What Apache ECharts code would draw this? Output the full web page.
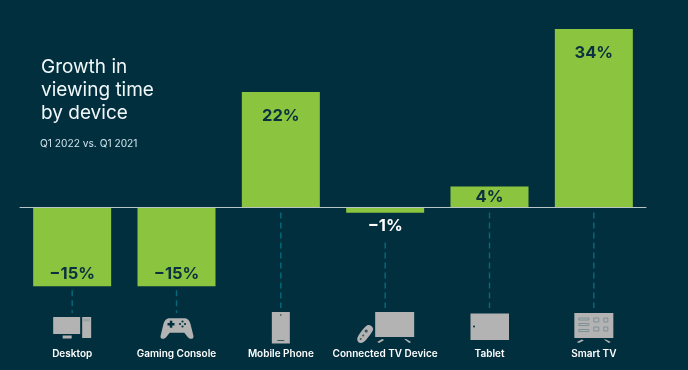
<!DOCTYPE html>
<html>
<head>
<meta charset="utf-8">
<style>html,body{margin:0;padding:0;background:#022f3e}#c{width:688px;height:370px}</style>
<script src="https://cdn.jsdelivr.net/npm/echarts@6/dist/echarts.min.js"></script>
</head>
<body>
<div id="c"></div>
<script>
const categories = ['Desktop', 'Gaming Console', 'Mobile Phone', 'Connected TV Device', 'Tablet', 'Smart TV'];
const growth = [-15, -15, 22, -1, 4, 34];
const titleLines = ['Growth in', 'viewing time', 'by device'];
const subtitle = 'Q1 2022 vs. Q1 2021';

const BG = '#022f3e', GREEN = '#8bc53f', DARK = '#0b3040', GREY = '#b3b3b3', STEM = '#06697c', WHITE = '#ffffff';
const FONT = 'Inter, "Noto Sans", sans-serif';

const fmt = v => (v < 0 ? '\u2212' + Math.abs(v) : v) + '%';

const r = (x, y, width, height, fill, stroke) => ({
  type: 'rect', shape: { x, y, width, height },
  style: { fill: fill || GREY, stroke: stroke || null, lineWidth: stroke ? 1 : 0 }
});
const poly = (points, fill) => ({ type: 'polygon', shape: { points }, style: { fill: fill || GREY } });
const dot = (cx, cy, rad, fill) => ({ type: 'circle', shape: { cx, cy, r: rad }, style: { fill: fill || BG } });

const iconParts = [
  // Desktop
  [r(-19, 317, 27, 17), r(-9.5, 335.5, 9, 3), r(10, 317, 9, 21), r(11, 318.5, 6.5, 3, '#9aa5a8')],
  // Gaming console
  [{ type: 'path', shape: { pathData: 'M8 2 H24 C28 2 30 5 31 9 L34 21 C35 25 31 26 28 23 L24 18 H8 L4 23 C1 26 -3 25 -2 21 L1 9 C2 5 4 2 8 2 Z', x: -16, y: 317, width: 33, height: 23 }, style: { fill: GREY } },
   r(-9, 323, 7, 2.5, BG), r(-6.7, 320.7, 2.5, 7, BG),
   dot(6, 321.5, 1.1), dot(6, 326.5, 1.1), dot(3.5, 324, 1.1), dot(8.5, 324, 1.1)],
  // Mobile phone
  [r(-9, 312, 18, 31.5), dot(0, 315, 0.7), r(-3.5, 340, 7, 1, '#3b5560')],
  // Connected TV
  [r(-10, 312, 39, 25), poly([[-8, 342], [-3, 339], [-1, 340], [-6, 343]]), poly([[19, 339], [21, 339], [26, 342], [24, 343]]),
   { type: 'path', shape: { pathData: 'M10 0 C13 0 15 2 15 4 C15 6 8 15 6 16 C3 18 0 16 0 13 C0 11 6 2 10 0 Z', x: -28, y: 325, width: 16, height: 18 }, style: { fill: GREY } },
   dot(-19, 331, 1.6, '#3b5560'), dot(-22, 335.5, 1, '#3b5560'), dot(-24.5, 339, 1, '#3b5560')],
  // Tablet
  [r(-19, 313.5, 38.5, 26.5), dot(-15.5, 326.5, 1)],
  // Smart TV
  [r(-19.5, 313, 39, 25), poly([[-17, 342], [-12, 339.5], [-10, 340.5], [-15, 343]]), poly([[10, 339.5], [12, 339.5], [17, 342], [15, 343]]),
   r(-15, 318, 10, 2, null, '#7f9095'), r(-15, 323.5, 10, 2, null, '#7f9095'), r(-15, 329.5, 10, 2, null, '#7f9095'),
   r(0, 318, 5, 4, null, '#7f9095'), r(10, 318, 4, 4, null, '#7f9095'), r(0, 327, 5, 4, null, '#7f9095'), r(10, 327, 4, 4, null, '#7f9095')]
];

const chart = echarts.init(document.getElementById('c'), null, { renderer: 'canvas' });
chart.setOption({
  backgroundColor: BG,
  animation: false,
  title: [
    { text: titleLines.join('\n'), left: 41, top: 56, padding: 0, textStyle: { color: '#f1f8fa', fontFamily: FONT, fontSize: 19, fontWeight: 400, lineHeight: 23 } },
    { text: subtitle, left: 40, top: 139, padding: 0, textStyle: { color: '#cfe4ec', fontFamily: FONT, fontSize: 10.2, fontWeight: 400 } }
  ],
  grid: { left: 20, right: 42, top: 8, bottom: 26, containLabel: false, outerBoundsMode: 'none' },
  xAxis: {
    type: 'category', data: categories, z: 5,
    axisLine: { onZero: true, lineStyle: { color: '#b9c4c7', width: 1 } },
    axisTick: { show: false },
    axisLabel: { margin: 5, interval: 0, color: WHITE, fontFamily: FONT, fontSize: 10, fontWeight: 600 }
  },
  yAxis: { type: 'value', min: -26, max: 38, show: false, splitLine: { show: false } },
  series: [
    {
      type: 'bar', data: growth.map(v => ({
        value: v,
        label: v < -5
          ? { position: 'insideBottom', distance: 4, color: DARK }
          : v < 0 ? { position: 'bottom', distance: 5, color: WHITE }
          : { position: 'insideTop', distance: v < 10 ? 2 : 16, color: DARK }
      })),
      barWidth: 78, itemStyle: { color: GREEN }, z: 3,
      label: { show: true, fontFamily: FONT, fontSize: 16.5, fontWeight: 700, formatter: p => fmt(p.value) }
    },
    {
      type: 'custom', silent: true, z: 1, clip: false,
      encode: { x: 0, y: 1 },
      data: growth.map((v, i) => [i, v]),
      renderItem: (params, api) => {
        const i = api.value(0), v = api.value(1);
        const [cx, zero] = api.coord([i, 0]);
        const barEnd = api.coord([i, v])[1];
        const y1 = v < -5 ? barEnd + 4 : v < 0 ? zero + 35 : zero + 5;
        const y2 = v < -5 ? 313 : 308;
        return {
          type: 'group',
          children: [
            { type: 'line', shape: { x1: cx, y1, x2: cx, y2 }, style: { stroke: STEM, lineWidth: 1.4, lineDash: [6, 4] } },
            { type: 'group', x: cx, y: 0, children: iconParts[i] }
          ]
        };
      }
    }
  ]
});
</script>
</body>
</html>
